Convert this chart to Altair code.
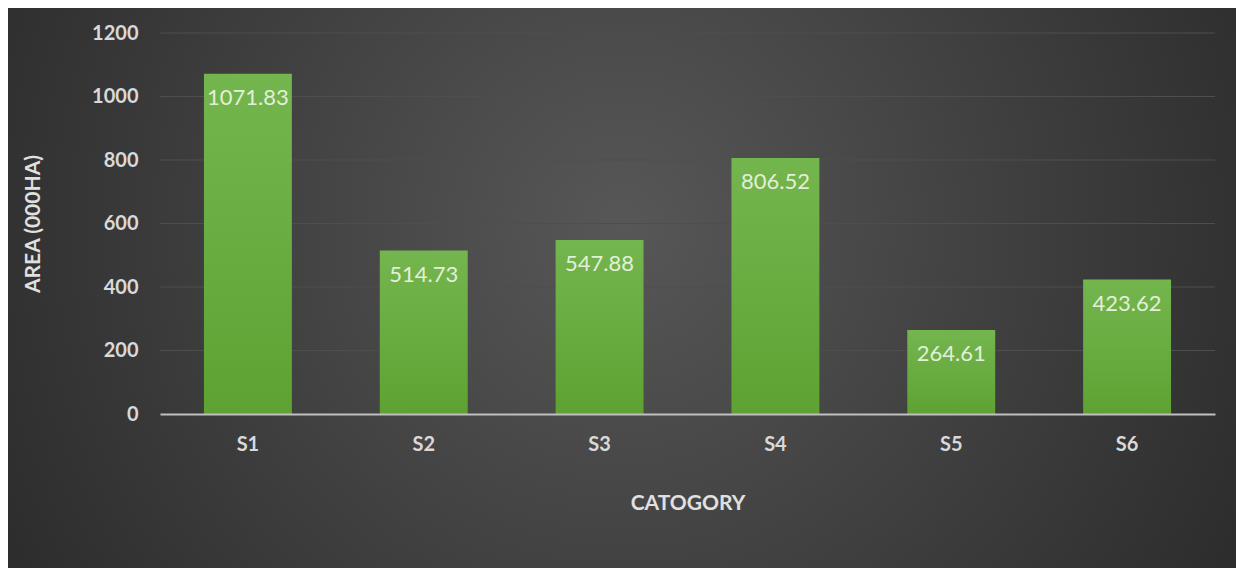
import altair as alt
import pandas as pd

categories = ["S1", "S2", "S3", "S4", "S5", "S6"]
values = [1071.83, 514.73, 547.88, 806.52, 264.61, 423.62]
labels = ["1071.83", "514.73", "547.88", "806.52", "264.61", "423.62"]
y_ticks = [0, 200, 400, 600, 800, 1000, 1200]

df = pd.DataFrame({"cat": categories, "val": values, "label": labels})
grid_df = pd.DataFrame({"tick": y_ticks[1:]})

W, H = 1055, 381
PL, PT, PR, PB = 152, 25, 21, 154

bg = alt.Chart(pd.DataFrame({"a": [0]})).mark_rect(
    fill={
        "gradient": "radial",
        "x1": 0.5, "y1": 0.45, "r1": 0,
        "x2": 0.5, "y2": 0.45, "r2": 0.75,
        "stops": [
            {"offset": 0, "color": "#575757"},
            {"offset": 1, "color": "#1f1f1f"},
        ],
    }
).encode(
    x=alt.value(-PL), x2=alt.value(W + PR),
    y=alt.value(-PT), y2=alt.value(H + PB),
)

grid = alt.Chart(grid_df).mark_rule(color="#4e4e4e", strokeWidth=1).encode(
    y=alt.Y("tick:Q", scale=alt.Scale(domain=[0, 1200])),
    x=alt.value(0), x2=alt.value(W),
)

base = alt.Chart(df).encode(
    x=alt.X("cat:N", sort=categories,
            scale=alt.Scale(paddingInner=0.5, paddingOuter=0.25),
            axis=alt.Axis(title="CATOGORY", labelAngle=0, zindex=1)),
)

bars = base.mark_bar(
    color={
        "gradient": "linear",
        "x1": 0, "y1": 0, "x2": 0, "y2": 1,
        "stops": [
            {"offset": 0, "color": "#74b64e"},
            {"offset": 1, "color": "#5ea233"},
        ],
    }
).encode(
    y=alt.Y("val:Q", scale=alt.Scale(domain=[0, 1200]),
            axis=alt.Axis(title="AREA (000HA)", values=y_ticks, format="d",
                          zindex=1)),
)

text = base.mark_text(
    baseline="top", dy=14, fontSize=22, font="Lato", color="#e2efda"
).encode(
    y=alt.Y("val:Q"),
    text="label:N",
)

chart = alt.layer(bg, grid, bars, text).properties(
    width=W, height=H,
    autosize=alt.AutoSizeParams(type="none"),
    padding={"left": PL, "top": PT, "right": PR, "bottom": PB},
    background="#262626",
).configure_view(stroke=None).configure_axis(
    labelFont="Lato", labelFontWeight="bold", labelFontSize=20,
    labelColor="#d9d9d9", titleFont="Lato", titleFontWeight="bold",
    titleFontSize=21, titleColor="#e0e0e0", ticks=False,
    grid=False,
).configure_axisY(
    domain=False, labelPadding=22, titlePadding=48,
).configure_axisX(
    domain=True, domainColor="#c0c0c0", domainWidth=2,
    labelPadding=20, titlePadding=38,
)

chart.save("out.html", embed_options={"renderer": "svg", "actions": False})
